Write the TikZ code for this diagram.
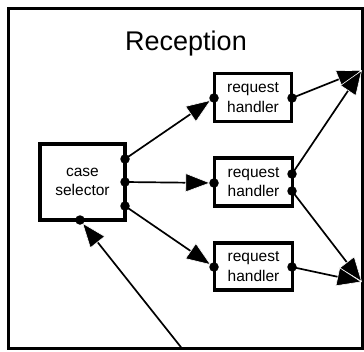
\documentclass[tikz,border=0pt]{standalone}
\usepackage{fontspec}
\setmainfont{Liberation Sans}
\usetikzlibrary{arrows.meta}
\begin{document}
\begin{tikzpicture}[x=1pt,y=-1pt,
  box/.style={draw, line width=3.4pt, fill=white, inner sep=0pt, align=center,
    font=\fontsize{15.5}{19.5}\selectfont},
  port/.style={circle, fill=black, inner sep=0pt, minimum size=9.5pt},
  conn/.style={line width=1.7pt,
    -{Triangle[length=25pt,width=19pt,fill=black,color=white,line width=0.6pt]}},
  toport/.style={conn, shorten >=3.5pt}]
\useasboundingbox (0,0) rectangle (364,351);
\draw[line width=3.4pt] (8.5,8.5) rectangle (362.5,348.5);
\node[font=\fontsize{27}{30}\selectfont] (title) at (186,44) {Reception};
% coordinates of ports
\coordinate (csA) at (125,159);
\coordinate (csB) at (125,182);
\coordinate (csC) at (125,206);
\coordinate (csD) at (80,220);
\coordinate (h1L) at (214,98);
\coordinate (h1R) at (292,98);
\coordinate (h2L) at (214,183);
\coordinate (h2Ra) at (292,174);
\coordinate (h2Rb) at (292,191);
\coordinate (h3L) at (214,267);
\coordinate (h3R) at (292,267);
\coordinate (outT) at (362,70);
\coordinate (outB) at (362,282);
\coordinate (inB) at (182,348.5);
% connectors
\draw[toport] (csA) -- (h1L);
\draw[toport] (csB) -- (h2L);
\draw[toport] (csC) -- (h3L);
\draw[conn] (h1R) -- (outT);
\draw[conn] (h2Ra) -- (outT);
\draw[conn] (h2Rb) -- (outB);
\draw[conn] (h3R) -- (outB);
\draw[toport] (inB) -- (csD);
% boxes
\node[box, minimum width=85pt, minimum height=76pt] (cs) at (82.5,182) {case\\selector};
\node[box, minimum width=77pt, minimum height=48pt] (h1) at (253,97.5) {request\\handler};
\node[box, minimum width=78pt, minimum height=48pt] (h2) at (253.5,182) {request\\handler};
\node[box, minimum width=78pt, minimum height=47pt] (h3) at (253.5,266.5) {request\\handler};
% ports
\foreach \p in {csA,csB,csC,csD,h1L,h1R,h2L,h2Ra,h2Rb,h3L,h3R}
  \node[port] (p\p) at (\p) {};
\end{tikzpicture}
\end{document}
